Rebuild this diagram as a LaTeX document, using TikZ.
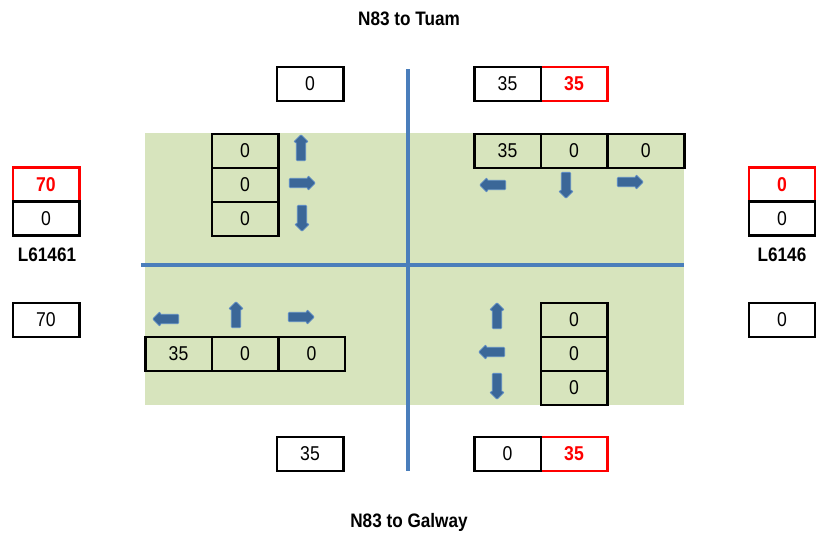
\documentclass[tikz,border=0pt]{standalone}
\usepackage{fontspec}
\setmainfont{Liberation Sans}[FakeStretch=0.88]
\usetikzlibrary{shapes.arrows}
\definecolor{bggreen}{HTML}{D7E4BD}
\definecolor{linblue}{HTML}{4A7EBB}
\definecolor{arrfill}{HTML}{3B6798}
\definecolor{arredge}{HTML}{5B8AC2}
\definecolor{redb}{HTML}{FF0000}
\tikzset{
  cell/.style={draw=black, line width=2.5pt, minimum width=66.5pt, minimum height=34pt, inner sep=0pt, font=\fontsize{20}{20}\selectfont},
  redcell/.style={cell, draw=redb, text=redb, font=\fontsize{20}{20}\selectfont\bfseries},
  lbl/.style={font=\fontsize{19.5}{19.5}\selectfont\bfseries},
  blk/.style={single arrow, fill=arrfill, draw=arredge, line width=0.8pt, minimum height=26pt, inner xsep=0pt, inner ysep=4.3pt, single arrow head extend=2.7pt, single arrow head indent=0pt, rounded corners=1pt},
  up/.style={blk, rotate=90},
  dn/.style={blk, rotate=270},
  lf/.style={blk, rotate=180},
  rt/.style={blk},
  road/.style={draw=linblue, line width=4pt}
}
\begin{document}
\begin{tikzpicture}[x=1pt,y=-1pt]
\useasboundingbox (0,0) rectangle (816,539);
\fill[bggreen] (145,133) rectangle (684,405);
\coordinate (vt) at (408,69);
\coordinate (vb) at (408,471);
\coordinate (hl) at (141,265);
\coordinate (hr) at (684,265);
\draw[road] (vt) -- (vb);
\draw[road] (hl) -- (hr);
% titles
\node[lbl] (tuam) at (409,19) {N83 to Tuam};
\node[lbl] (galway) at (409,522) {N83 to Galway};
\node[lbl] (lw) at (47,255) {L61461};
\node[lbl] (le) at (782,255) {L6146};
% top outer
\node[cell] (t1) at (310,84) {0};
\node[redcell] (t3) at (574,84) {35};
\node[cell] (t2) at (507.5,84) {35};
% left outer
\node[redcell] (w1) at (46,184.5) {70};
\node[cell] (w2) at (46,218.5) {0};
\node[cell] (w3) at (46,320) {70};
% right outer
\node[redcell] (e1) at (782,184.5) {0};
\node[cell] (e2) at (782,218.5) {0};
\node[cell] (e3) at (782,320) {0};
% bottom outer
\node[cell] (b1) at (310,454) {35};
\node[redcell] (b3) at (574,454) {35};
\node[cell] (b2) at (507.5,454) {0};
% top-left quadrant
\node[cell] (q1a) at (245,151) {0};
\node[cell] (q1b) at (245,185) {0};
\node[cell] (q1c) at (245,219) {0};
\node[up] (a1u) at (301,150) {};
\node[rt] (a1r) at (300,183) {};
\node[dn] (a1d) at (302,216) {};
% top-right quadrant
\node[cell] (q2a) at (507.5,151) {35};
\node[cell] (q2b) at (574,151) {0};
\node[cell, minimum width=77pt] (q2c) at (645.75,151) {0};
\node[lf] (a2l) at (495,185) {};
\node[dn] (a2d) at (566,183) {};
\node[rt] (a2r) at (628,182) {};
% bottom-left quadrant
\node[lf] (a3l) at (168,319) {};
\node[up] (a3u) at (236,317) {};
\node[rt] (a3r) at (299,317) {};
\node[cell] (q3a) at (178.5,354) {35};
\node[cell] (q3b) at (245,354) {0};
\node[cell] (q3c) at (311.5,354) {0};
% bottom-right quadrant
\node[cell] (q4a) at (574,320) {0};
\node[cell] (q4b) at (574,354) {0};
\node[cell] (q4c) at (574,388) {0};
\node[up] (a4u) at (497,318) {};
\node[lf] (a4l) at (494,352) {};
\node[dn] (a4d) at (497,384) {};
\end{tikzpicture}
\end{document}
